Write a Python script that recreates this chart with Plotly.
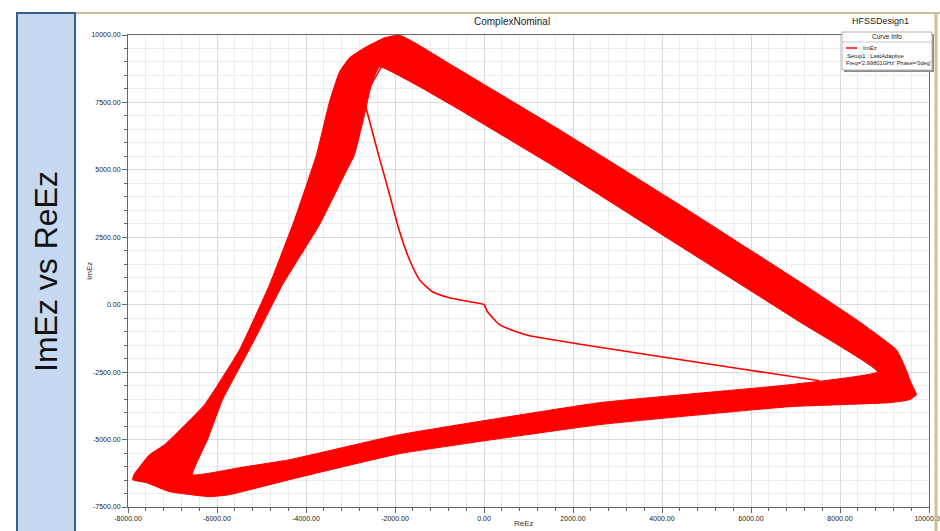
import plotly.graph_objects as go

# ---------------- data ----------------
# outer edge of the dense looping band (ReEz, ImEz)
re_outer = [-1900, -1517, -551, 1697, 4393, 7090, 8438, 9269, 9449, 9607, 9719,
            9562, 9112, 6865, 2595, -1899, -4371, -5719, -6168, -7067, -7584,
            -7899, -7854, -7517, -7180, -6281, -5494, -4820, -4258, -3764,
            -3472, -3247, -3022, -2685, -2236]
im_outer = [9980, 9675, 8711, 6487, 3707, 853, -630, -1668, -2260, -2929, -3336,
            -3522, -3633, -3781, -4448, -5523, -6487, -7043, -7117, -6932, -6598,
            -6487, -6265, -5560, -5190, -3707, -1668, 741, 3151, 5561,
            7525, 8637, 9156, 9527, 9898]
# inner edge of the band
re_inner = [-2348, -1449, -551, 1697, 4393, 7090, 8842, 6865, 2595, -1899, -4371,
            -5494, -6550, -6213, -5876, -5157, -4528, -3697, -3135, -2910,
            -2685, -2528]
im_inner = [8823, 8081, 7229, 5004, 2187, -630, -2484, -2966, -3633, -4819, -5746,
            -6042, -6302, -5005, -3522, -1297, 741, 2966, 4819, 5561,
            7043, 8155]
# single thin branch through the origin
re_path = [-2730, -2550, -2371, -2213, -2092, -1910, -1674, -1449, -1157, -775,
           -326, 0, 79, 348, 730, 1022, 7539]
im_path = [7785, 6673, 5561, 4634, 3892, 2780, 1668, 927, 482, 259,
           111, 0, -259, -741, -1001, -1149, -2817]

x_tickvals = [-8000, -6000, -4000, -2000, 0, 2000, 4000, 6000, 8000, 10000]
x_ticktext = ["-8000.00", "-6000.00", "-4000.00", "-2000.00", "0.00", "2000.00",
              "4000.00", "6000.00", "8000.00", "10000.00"]
y_tickvals = [-7500, -5000, -2500, 0, 2500, 5000, 7500, 10000]
y_ticktext = ["-7500.00", "-5000.00", "-2500.00", "0.00", "2500.00", "5000.00",
              "7500.00", "10000.00"]

# ---------------- figure ----------------
W, H = 940, 531
L, R, T, B = 128, 929, 35, 507


def px(x):
    return (x - L) / (R - L)


def py(y):
    return (B - y) / (B - T)


RED = "#ff0000"
FONT = "Liberation Sans"

# band polygon: outer loop, then inner loop reversed (keyhole, so the hole stays empty)
band_x = re_outer + [re_outer[0]] + re_inner[::-1] + [re_inner[-1]] + [re_outer[0]]
band_y = im_outer + [im_outer[0]] + im_inner[::-1] + [im_inner[-1]] + [im_outer[0]]

fig = go.Figure()
fig.add_trace(go.Scatter(x=band_x, y=band_y, mode="lines", fill="toself",
                         fillcolor=RED,
                         line=dict(color=RED, width=1, shape="spline", smoothing=0.35),
                         name="ImEz", showlegend=False, hoverinfo="skip"))
fig.add_trace(go.Scatter(x=re_path, y=im_path, mode="lines",
                         line=dict(color=RED, width=1.6, shape="spline", smoothing=0.5),
                         name="ImEz", showlegend=False))

axis_common = dict(showline=True, mirror=True, linecolor="#666666", linewidth=1,
                   ticks="outside", tickcolor="#666666", ticklen=5, tickwidth=1,
                   showgrid=True, gridcolor="#d9d9d9", gridwidth=1, zeroline=False,
                   automargin=False, ticklabeloverflow="allow",
                   tickfont=dict(family=FONT, size=7, color="#222222"))

fig.update_xaxes(range=[-8000, 10000], tickvals=x_tickvals, ticktext=x_ticktext,
                 minor=dict(dtick=400, tick0=-8000, ticks="outside", ticklen=3,
                            tickcolor="#666666", showgrid=True, gridcolor="#ececec"),
                 **axis_common)
fig.update_yaxes(range=[-7500, 10000], tickvals=y_tickvals, ticktext=y_ticktext,
                 minor=dict(dtick=500, tick0=-7500, ticks="outside", ticklen=3,
                            tickcolor="#666666", showgrid=True, gridcolor="#ececec"),
                 **axis_common)

shapes = [
    dict(type="rect", xref="paper", yref="paper", x0=px(17), x1=px(75),
         y0=py(540), y1=py(13), fillcolor="#c6d9f0",
         line=dict(color="#3a5f8c", width=2), layer="above"),
    dict(type="line", xref="paper", yref="paper", x0=px(76), x1=px(941),
         y0=py(13), y1=py(13), line=dict(color="#cbc199", width=2), layer="above"),
    dict(type="line", xref="paper", yref="paper", x0=px(936), x1=px(936),
         y0=py(13), y1=py(540), line=dict(color="#cbc199", width=3), layer="above"),
    dict(type="rect", xref="paper", yref="paper", x0=px(844), x1=px(934),
         y0=py(72), y1=py(34), fillcolor="#8c8c8c", line=dict(width=0), layer="above"),
    dict(type="rect", xref="paper", yref="paper", x0=px(842), x1=px(932),
         y0=py(70), y1=py(32), fillcolor="white",
         line=dict(color="#b0b0b0", width=1), layer="above"),
    dict(type="line", xref="paper", yref="paper", x0=px(842), x1=px(932),
         y0=py(42), y1=py(42), line=dict(color="#c8c8c8", width=1), layer="above"),
    dict(type="line", xref="paper", yref="paper", x0=px(846), x1=px(857),
         y0=py(48), y1=py(48), line=dict(color="#ff4040", width=2), layer="above"),
]

ann = [
    dict(text="ImEz vs ReEz", x=px(46), y=py(272), textangle=-90,
         font=dict(family=FONT, size=32, color="#111111")),
    dict(text="ComplexNominal", x=px(512), y=py(21),
         font=dict(family=FONT, size=10, color="#222222")),
    dict(text="HFSSDesign1", x=px(880), y=py(21),
         font=dict(family=FONT, size=9, color="#222222")),
    dict(text="ReEz", x=px(524), y=py(523),
         font=dict(family=FONT, size=8, color="#333333")),
    dict(text="ImEz", x=px(89), y=py(271), textangle=-90,
         font=dict(family=FONT, size=8, color="#333333")),
    dict(text="Curve Info", x=px(887), y=py(37),
         font=dict(family=FONT, size=6.5, color="#222222")),
    dict(text="ImEz", x=px(861), y=py(48), xanchor="left",
         font=dict(family=FONT, size=6, color="#222222")),
    dict(text="Setup1 : LastAdaptive", x=px(845), y=py(56), xanchor="left",
         font=dict(family=FONT, size=5.8, color="#222222")),
    dict(text="Freq='2.99801GHz' Phase='0deg'", x=px(844), y=py(63), xanchor="left",
         font=dict(family=FONT, size=5.7, color="#222222")),
]
for a in ann:
    a.update(xref="paper", yref="paper", showarrow=False)
    a.setdefault("xanchor", "center")
    a.setdefault("yanchor", "middle")

fig.update_layout(template="none", width=W, height=H,
                  margin=dict(l=L, r=W - R, t=T, b=H - B, autoexpand=False),
                  paper_bgcolor="white", plot_bgcolor="white",
                  shapes=shapes, annotations=ann, showlegend=False)

fig.write_html("out.html", config={"displayModeBar": False},
               post_script="document.body.style.margin='0px';"
                           "document.body.style.overflow='hidden';")
